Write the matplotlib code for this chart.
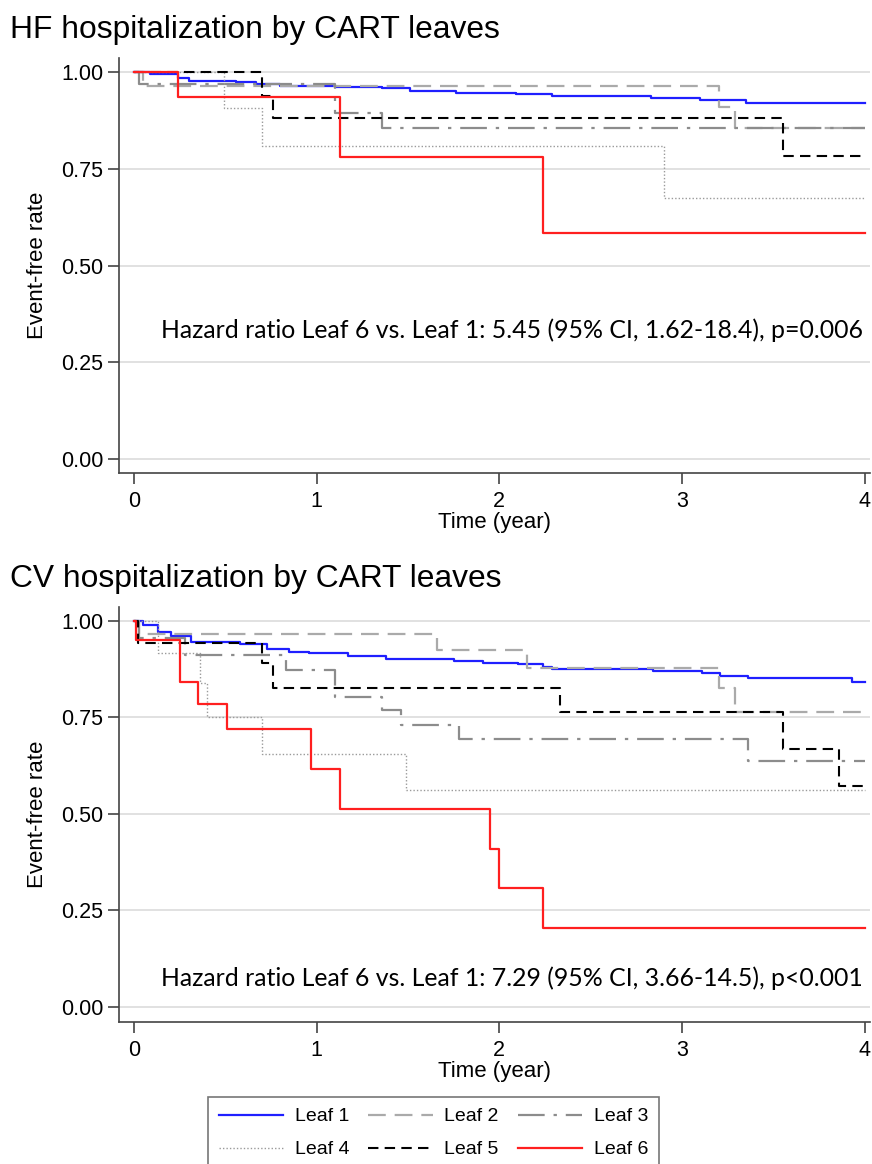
import matplotlib
matplotlib.use("Agg")
import matplotlib.pyplot as plt

plt.rcParams['font.family'] = ['Liberation Sans', 'DejaVu Sans']

# --[data: Kaplan-Meier steps]-------------------------------------------------
leaf_names = ['Leaf 1', 'Leaf 2', 'Leaf 3', 'Leaf 4', 'Leaf 5', 'Leaf 6']

# HF hospitalization
hf_t1 = [0, 0.09, 0.24, 0.30, 0.56, 0.67, 0.80, 1.10, 1.36, 1.51, 1.76, 2.09, 2.29, 2.83, 3.10, 3.35, 4.0]
hf_s1 = [1.0, 0.995, 0.985, 0.977, 0.973, 0.969, 0.964, 0.961, 0.958, 0.951, 0.946, 0.943, 0.938, 0.933, 0.928, 0.920, 0.920]
hf_t2 = [0, 0.05, 3.20, 3.29, 4.0]
hf_s2 = [1.0, 0.965, 0.910, 0.855, 0.855]
hf_t3 = [0, 0.03, 1.10, 1.36, 4.0]
hf_s3 = [1.0, 0.968, 0.894, 0.855, 0.855]
hf_t4 = [0, 0.49, 0.70, 2.90, 4.0]
hf_s4 = [1.0, 0.907, 0.809, 0.674, 0.674]
hf_t5 = [0, 0.70, 0.76, 3.55, 4.0]
hf_s5 = [1.0, 0.938, 0.881, 0.783, 0.783]
hf_t6 = [0, 0.24, 1.13, 2.24, 4.0]
hf_s6 = [1.0, 0.935, 0.780, 0.584, 0.584]

# CV hospitalization
cv_t1 = [0, 0.05, 0.13, 0.20, 0.31, 0.58, 0.73, 0.85, 0.96, 1.17, 1.38, 1.75, 1.91, 2.10, 2.24, 2.29,
         2.84, 3.11, 3.21, 3.36, 3.93, 4.0]
cv_s1 = [1.0, 0.990, 0.971, 0.961, 0.946, 0.940, 0.927, 0.920, 0.917, 0.909, 0.902, 0.896, 0.891, 0.889,
         0.881, 0.876, 0.870, 0.865, 0.857, 0.852, 0.842, 0.842]
cv_t2 = [0, 0.03, 1.66, 2.15, 3.20, 3.29, 4.0]
cv_s2 = [1.0, 0.966, 0.925, 0.878, 0.826, 0.764, 0.764]
cv_t3 = [0, 0.03, 0.28, 0.83, 1.10, 1.36, 1.46, 1.78, 3.36, 4.0]
cv_s3 = [1.0, 0.957, 0.912, 0.873, 0.803, 0.769, 0.731, 0.694, 0.637, 0.637]
cv_t4 = [0, 0.13, 0.36, 0.40, 0.70, 1.49, 4.0]
cv_s4 = [1.0, 0.917, 0.840, 0.751, 0.655, 0.562, 0.562]
cv_t5 = [0, 0.02, 0.70, 0.76, 2.33, 3.55, 3.86, 4.0]
cv_s5 = [1.0, 0.943, 0.891, 0.826, 0.764, 0.668, 0.573, 0.573]
cv_t6 = [0, 0.01, 0.25, 0.35, 0.51, 0.97, 1.13, 1.95, 2.00, 2.24, 4.0]
cv_s6 = [1.0, 0.951, 0.842, 0.785, 0.720, 0.617, 0.513, 0.410, 0.308, 0.205, 0.205]

hf_note = 'Hazard ratio Leaf 6 vs. Leaf 1: 5.45 (95% CI, 1.62-18.4), p=0.006'
cv_note = 'Hazard ratio Leaf 6 vs. Leaf 1: 7.29 (95% CI, 3.66-14.5), p<0.001'

# --[styles]-------------------------------------------------------------------
styles = [
    dict(color='#1f1fff', lw=1.6, ls='-'),
    dict(color='#aaaaaa', lw=1.6, ls=(0, (8, 4))),
    dict(color='#8c8c8c', lw=1.6, ls=(0, (12, 4, 1.5, 4))),
    dict(color='#9a9a9a', lw=1.0, ls=(0, (1, 1.5))),
    dict(color='black', lw=1.5, ls=(0, (5, 3))),
    dict(color='#ff1f1f', lw=1.6, ls='-'),
]

fig = plt.figure(figsize=(8.72, 11.64), dpi=100)
ax_hf = fig.add_axes([0.1365, 0.5936, 0.861, 0.3565])
ax_cv = fig.add_axes([0.1365, 0.1220, 0.861, 0.3565])


def draw_panel(ax, curves, note, note_y, ymin):
    lines = []
    for (t, s), st in zip(curves, styles):
        ln, = ax.step(t, s, where='post', **st)
        lines.append(ln)
    ax.set_xlim(-0.082, 4.028)
    ax.set_ylim(ymin, 1.036)
    ax.set_xticks([0, 1, 2, 3, 4])
    ax.set_yticks([0, 0.25, 0.5, 0.75, 1.0])
    ax.set_yticklabels(['0.00', '0.25', '0.50', '0.75', '1.00'])
    ax.yaxis.grid(True, color='#dcdcdc', lw=1.2)
    ax.set_axisbelow(True)
    for side in ['top', 'right']:
        ax.spines[side].set_visible(False)
    for side in ['left', 'bottom']:
        ax.spines[side].set_color('#444444')
        ax.spines[side].set_linewidth(1.2)
    ax.tick_params(axis='both', labelsize=15.5, length=8, width=1.2, color='#444444')
    ax.tick_params(axis='x', pad=5)
    ax.set_xlabel('Time (year)', fontsize=16, labelpad=0)
    ax.set_ylabel('Event-free rate', fontsize=16, labelpad=9)
    ax.text(3.99, note_y, note, ha='right', va='center',
            fontsize=17.9, family=['Lato', 'DejaVu Sans'])
    return lines


hf_lines = draw_panel(ax_hf, [(hf_t1, hf_s1), (hf_t2, hf_s2), (hf_t3, hf_s3),
                              (hf_t4, hf_s4), (hf_t5, hf_s5), (hf_t6, hf_s6)], hf_note, 0.334, -0.036)
draw_panel(ax_cv, [(cv_t1, cv_s1), (cv_t2, cv_s2), (cv_t3, cv_s3),
                   (cv_t4, cv_s4), (cv_t5, cv_s5), (cv_t6, cv_s6)], cv_note, 0.075, -0.039)

fig.text(10 / 872, 1 - 30 / 1164, 'HF hospitalization by CART leaves', fontsize=22.9, va='center')
fig.text(10 / 872, 1 - 579 / 1164, 'CV hospitalization by CART leaves', fontsize=22.9, va='center')

# legend: row-wise order Leaf1 Leaf2 Leaf3 / Leaf4 Leaf5 Leaf6
order = [0, 3, 1, 4, 2, 5]
leg = fig.legend([hf_lines[i] for i in order], [leaf_names[i] for i in order], ncol=3,
                 loc='upper left', bbox_to_anchor=(208 / 872, 1 - 1097 / 1164),
                 fontsize=14, frameon=True, fancybox=False, handlelength=3.3,
                 columnspacing=1.0, handletextpad=0.6, borderpad=0.55, labelspacing=0.8,
                 borderaxespad=0)
leg.get_frame().set_edgecolor('#555555')
leg.get_frame().set_linewidth(1.2)

fig.savefig('out.png', dpi=100)
